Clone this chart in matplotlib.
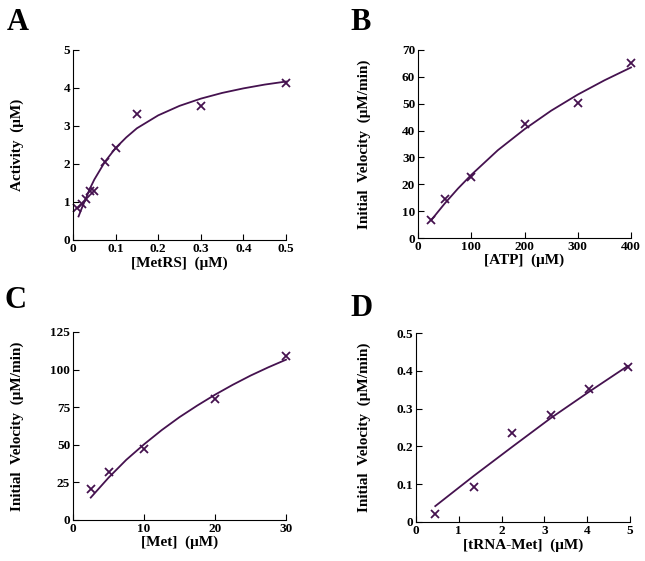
import matplotlib.pyplot as plt

plt.rcParams['font.family'] = ['Liberation Serif', 'DejaVu Serif']
plt.rcParams['font.weight'] = 'bold'

PURPLE = '#45124f'

# Panel A: activity vs [MetRS]
a_x = [0.01, 0.02, 0.03, 0.04, 0.05, 0.075, 0.1, 0.15, 0.3, 0.5]
a_y = [0.83, 0.96, 1.08, 1.29, 1.30, 2.04, 2.43, 3.32, 3.53, 4.12]
a_fit_x = [0.013, 0.02, 0.03, 0.04, 0.05, 0.075, 0.1, 0.125, 0.15, 0.2, 0.25, 0.3, 0.35, 0.4, 0.45, 0.5]
a_fit_y = [0.62, 0.82, 1.09, 1.36, 1.59, 2.06, 2.42, 2.70, 2.94, 3.28, 3.53, 3.72, 3.87, 3.99, 4.09, 4.17]

# Panel B: initial velocity vs [ATP]
b_x = [25, 50, 100, 200, 300, 400]
b_y = [6.8, 14.6, 22.7, 42.3, 50.1, 65.3]
b_fit_x = [25, 50, 75, 100, 150, 200, 250, 300, 350, 400]
b_fit_y = [6.7, 12.8, 18.4, 23.5, 32.7, 40.5, 47.4, 53.4, 58.7, 63.5]

# Panel C: initial velocity vs [Met]
c_x = [2.5, 5, 10, 20, 30]
c_y = [20.5, 32.0, 47.5, 80.5, 109.2]
c_fit_x = [2.5, 5, 7.5, 10, 12.5, 15, 17.5, 20, 22.5, 25, 27.5, 30]
c_fit_y = [14.9, 28.1, 40.0, 50.3, 59.8, 68.4, 76.1, 83.3, 89.9, 96.0, 101.5, 106.6]

# Panel D: initial velocity vs [tRNA-Met]
d_x = [0.45, 1.35, 2.25, 3.15, 4.05, 4.95]
d_y = [0.022, 0.093, 0.236, 0.283, 0.352, 0.409]
d_fit_x = [0.45, 1.35, 2.25, 3.15, 4.05, 4.95]
d_fit_y = [0.042, 0.122, 0.199, 0.275, 0.345, 0.413]

fig = plt.figure(figsize=(6.45, 5.61), dpi=100)

W, H = 645.0, 561.0


def make_axes(l, r, t, b):
    return fig.add_axes([l / W, 1 - b / H, (r - l) / W, (b - t) / H])


# box = (left, right, top, bottom) in pixels; ylx = right edge of the y label in pixels
panels = [
    dict(box=(73, 286, 50, 240), x=a_x, y=a_y, fx=a_fit_x, fy=a_fit_y,
         xlim=(0, 0.5), ylim=(0, 5), xt=[0, 0.1, 0.2, 0.3, 0.4, 0.5], yt=[0, 1, 2, 3, 4, 5],
         xl='[MetRS]  (\u03bcM)', yl='Activity  (\u03bcM)', letter='A', lpos=(7, 30), ylx=24),
    dict(box=(418, 631, 50, 238), x=b_x, y=b_y, fx=b_fit_x, fy=b_fit_y,
         xlim=(0, 400), ylim=(0, 70), xt=[0, 100, 200, 300, 400], yt=list(range(0, 71, 10)),
         xl='[ATP]  (\u03bcM)', yl='Initial  Velocity  (\u03bcM/min)', letter='B', lpos=(350, 30), ylx=371),
    dict(box=(73, 286, 332, 520), x=c_x, y=c_y, fx=c_fit_x, fy=c_fit_y,
         xlim=(0, 30), ylim=(0, 125), xt=[0, 10, 20, 30], yt=[0, 25, 50, 75, 100, 125],
         xl='[Met]  (\u03bcM)', yl='Initial  Velocity  (\u03bcM/min)', letter='C', lpos=(5, 308), ylx=24),
    dict(box=(416, 630, 333, 522), x=d_x, y=d_y, fx=d_fit_x, fy=d_fit_y,
         xlim=(0, 5), ylim=(0, 0.5), xt=[0, 1, 2, 3, 4, 5], yt=[0, 0.1, 0.2, 0.3, 0.4, 0.5],
         xl='[tRNA-Met]  (\u03bcM)', yl='Initial  Velocity  (\u03bcM/min)', letter='D', lpos=(350, 316), ylx=371),
]

for p in panels:
    l, r, t, b = p['box']
    ax = make_axes(l, r, t, b)
    ax.plot(p['fx'], p['fy'], color=PURPLE, lw=1.3, clip_on=False)
    ax.plot(p['x'], p['y'], ls='none', marker='x', ms=5.5, mew=1.3, color=PURPLE, clip_on=False)
    ax.set_xlim(*p['xlim'])
    ax.set_ylim(*p['ylim'])
    ax.set_xticks(p['xt'])
    ax.set_yticks(p['yt'])
    ax.set_xticklabels([('%g' % v) for v in p['xt']], fontsize=9.5, fontweight='bold')
    ax.set_yticklabels([('%g' % v) for v in p['yt']], fontsize=9.5, fontweight='bold')
    ax.tick_params(direction='in', length=4, width=0.8, pad=2)
    for s in ['top', 'right']:
        ax.spines[s].set_visible(False)
    for s in ['left', 'bottom']:
        ax.spines[s].set_linewidth(0.8)
    ax.set_xlabel(p['xl'], fontsize=11, fontweight='bold')
    ax.xaxis.set_label_coords(0.5, -0.085)
    ax.set_ylabel(p['yl'], fontsize=11, fontweight='bold')
    ax.yaxis.set_label_coords((p['ylx'] - l) / (r - l), 0.5)
    fig.text(p['lpos'][0] / W, 1 - p['lpos'][1] / H, p['letter'], fontsize=22,
             fontweight='bold', ha='left', va='baseline')

fig.savefig('out.png', dpi=100)
